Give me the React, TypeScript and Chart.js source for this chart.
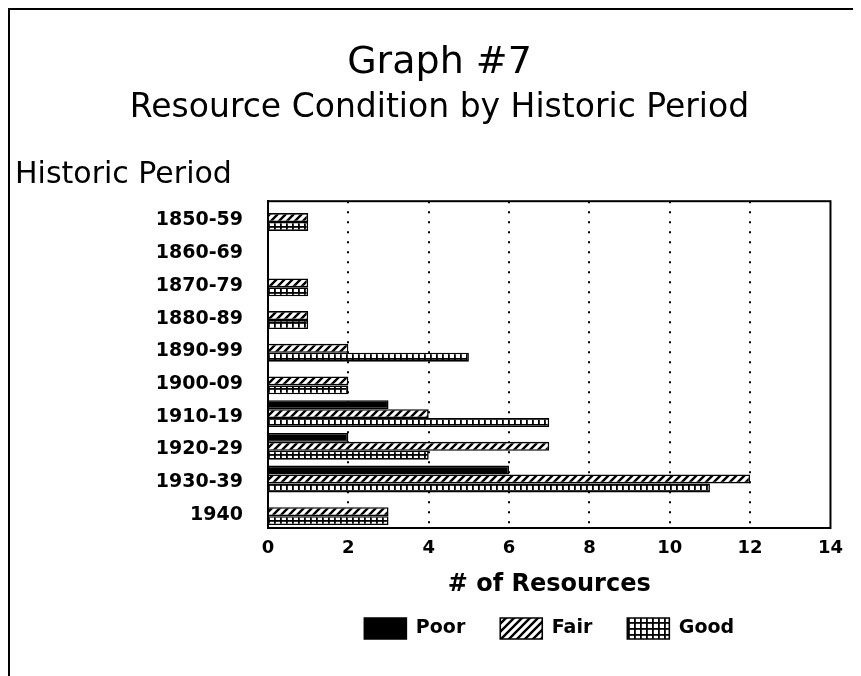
import { useEffect, useRef } from "react";
import { Chart, registerables } from "chart.js";

Chart.register(...registerables);

const periods = ["1850-59", "1860-69", "1870-79", "1880-89", "1890-99", "1900-09", "1910-19", "1920-29", "1930-39", "1940"];
const poor = [0, 0, 0, 0, 0, 0, 3, 2, 6, 0];
const fair = [1, 0, 1, 1, 2, 2, 4, 7, 12, 3];
const good = [1, 0, 1, 1, 5, 2, 7, 4, 11, 3];
const seriesNames = ["Poor", "Fair", "Good"];
const xTicks = [0, 2, 4, 6, 8, 10, 12, 14];
const titleText = "Graph #7";
const subtitleText = "Resource Condition by Historic Period";
const yAxisTitle = "Historic Period";
const xAxisTitle = "# of Resources";

const FONT = '"DejaVu Sans", "Noto Sans", sans-serif';

function makeHatch(): CanvasPattern | string {
  const c = document.createElement("canvas");
  c.width = 8;
  c.height = 8;
  const g = c.getContext("2d");
  if (!g) return "#fff";
  g.fillStyle = "#fff";
  g.fillRect(0, 0, 8, 8);
  g.strokeStyle = "#000";
  g.lineWidth = 2.4;
  g.beginPath();
  g.moveTo(-4, 4); g.lineTo(4, -4);
  g.moveTo(0, 8); g.lineTo(8, 0);
  g.moveTo(4, 12); g.lineTo(12, 4);
  g.stroke();
  return g.createPattern(c, "repeat") || "#fff";
}

function makeGrid(): CanvasPattern | string {
  const c = document.createElement("canvas");
  c.width = 6;
  c.height = 6;
  const g = c.getContext("2d");
  if (!g) return "#fff";
  g.fillStyle = "#fff";
  g.fillRect(0, 0, 6, 6);
  g.fillStyle = "#000";
  g.fillRect(0, 0, 6, 1.8);
  g.fillRect(0, 0, 1.8, 6);
  return g.createPattern(c, "repeat") || "#fff";
}

const framePlugin = {
  id: "frameAndYTitle",
  afterDraw(chart: any) {
    const { ctx, chartArea: a } = chart;
    ctx.save();
    ctx.strokeStyle = "#000";
    ctx.lineWidth = 2;
    ctx.strokeRect(a.left, a.top, a.right - a.left, a.bottom - a.top);
    ctx.fillStyle = "#000";
    ctx.font = `30px ${FONT}`;
    ctx.textAlign = "left";
    ctx.textBaseline = "middle";
    ctx.fillText(yAxisTitle, 5, a.top - 26);
    ctx.restore();
  },
};

export default function App() {
  const ref = useRef<HTMLCanvasElement | null>(null);

  useEffect(() => {
    document.body.style.overflow = "hidden";
    if (!ref.current) return;
    Chart.defaults.font.family = FONT;
    Chart.defaults.color = "#000";
    const hatch = makeHatch();
    const grid = makeGrid();
    const fills = ["#000", hatch, grid];
    const values = [poor, fair, good];

    const chart = new Chart(ref.current, {
      type: "bar",
      data: {
        labels: periods,
        datasets: seriesNames.map((name, i) => ({
          label: name,
          data: values[i],
          backgroundColor: fills[i] as any,
          borderColor: "#000",
          borderWidth: 1.6,
          categoryPercentage: 0.82,
          barPercentage: 1.0,
        })),
      },
      options: {
        indexAxis: "y",
        animation: false,
        responsive: false,
        devicePixelRatio: 1,
        events: [],
        layout: { padding: { top: 0, left: 36, right: 20, bottom: 27 } },
        scales: {
          x: {
            min: xTicks[0],
            max: xTicks[xTicks.length - 1],
            ticks: {
              stepSize: xTicks[1] - xTicks[0],
              padding: 10,
              font: { size: 18, weight: "bold" },
              color: "#000",
            },
            grid: {
              color: (c: any) =>
                c.tick && (c.tick.value === xTicks[0] || c.tick.value === xTicks[xTicks.length - 1])
                  ? "rgba(0,0,0,0)"
                  : "#000",
              lineWidth: 2,
              drawTicks: false,
            },
            border: { display: true, color: "#000", width: 2, dash: [2, 8] },
            title: {
              display: true,
              text: xAxisTitle,
              font: { size: 24, weight: "bold" },
              color: "#000",
              padding: { top: 0, bottom: -16 },
            },
            afterFit: (s: any) => {
              s.height = 55;
            },
          },
          y: {
            ticks: {
              padding: 25,
              autoSkip: false,
              labelOffset: 3,
              font: { size: 19, weight: "bold" },
              color: "#000",
            },
            grid: { display: false, drawTicks: false },
            border: { display: true, color: "#000", width: 2 },
            afterFit: (s: any) => {
              s.width = 222;
            },
          },
        },
        plugins: {
          title: {
            display: true,
            text: titleText,
            font: { size: 38, weight: "normal" },
            color: "#000",
            padding: { top: 30, bottom: 0 },
          },
          subtitle: {
            display: true,
            text: subtitleText,
            font: { size: 33, weight: "normal" },
            color: "#000",
            padding: { top: 3, bottom: 73 },
          },
          legend: {
            position: "bottom",
            fullSize: false,
            labels: {
              boxWidth: 42,
              boxHeight: 21,
              padding: 35,
              font: { size: 19, weight: "bold" },
              color: "#000",
            },
          },
          tooltip: { enabled: false },
        },
      },
      plugins: [framePlugin],
    });
    return () => chart.destroy();
  }, []);

  return (
    <div
      style={{
        borderTop: "2px solid #000",
        borderLeft: "2px solid #000",
        height: 668,
        boxSizing: "border-box",
        background: "#fff",
      }}
    >
      <canvas ref={ref} width={843} height={666} style={{ display: "block" }} />
    </div>
  );
}
